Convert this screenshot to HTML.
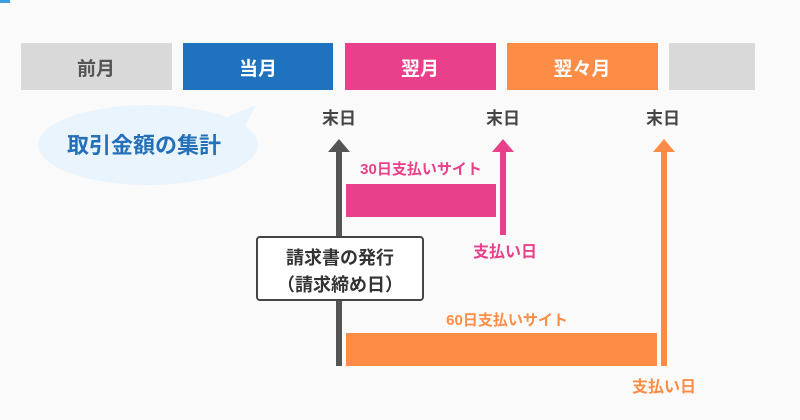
<!DOCTYPE html>
<html><head><meta charset="utf-8"><style>
html,body{margin:0;padding:0;background:#fafafa;}
svg{display:block;}
text{font-family:"Liberation Sans","Noto Sans CJK JP",sans-serif;font-weight:bold;}
</style></head><body>
<svg width="800" height="420" viewBox="0 0 800 420" xmlns="http://www.w3.org/2000/svg">
<rect width="800" height="420" fill="#fafafa"/>
<rect x="0" y="0" width="10" height="3" fill="#3aa0dc"/>
<rect x="21" y="43" width="151" height="47" fill="#d9d9d9"/>
<rect x="183" y="43" width="150" height="47" fill="#1f72bd"/>
<rect x="345" y="43" width="151" height="47" fill="#e8408a"/>
<rect x="507" y="43" width="151" height="47" fill="#fd8d46"/>
<rect x="669" y="43" width="86" height="47" fill="#d9d9d9"/>
<text x="96" y="75" font-size="19" fill="#555" text-anchor="middle">前月</text>
<text x="258" y="75" font-size="19" fill="#fff" text-anchor="middle">当月</text>
<text x="420" y="75" font-size="19" fill="#fff" text-anchor="middle">翌月</text>
<text x="582" y="75" font-size="19" fill="#fff" text-anchor="middle">翌々月</text>
<ellipse cx="148" cy="145" rx="110" ry="40" fill="#eaf4fc"/>
<path d="M225 118 L256 105 L240 135 Z" fill="#eaf4fc"/>
<text x="144" y="153" font-size="22" fill="#2470b8" text-anchor="middle">取引金額の集計</text>
<text x="339" y="124" font-size="17" fill="#444" text-anchor="middle">末日</text>
<text x="503" y="124" font-size="17" fill="#444" text-anchor="middle">末日</text>
<text x="663" y="124" font-size="17" fill="#444" text-anchor="middle">末日</text>
<rect x="336" y="148" width="6" height="218" fill="#555"/>
<path d="M328 152 L339 139 L350 152 Z" fill="#555"/>
<rect x="500" y="148" width="6" height="87" fill="#e8408a"/>
<path d="M492 152 L503 139 L514 152 Z" fill="#e8408a"/>
<rect x="661" y="148" width="6" height="218" fill="#fd8d46"/>
<path d="M653 152 L664 139 L675 152 Z" fill="#fd8d46"/>
<rect x="346" y="184" width="150" height="33" fill="#e8408a"/>
<text x="421" y="174" font-size="15" fill="#e8408a" text-anchor="middle">30日支払いサイト</text>
<rect x="346" y="333" width="311" height="33" fill="#fd8d46"/>
<text x="507" y="325" font-size="15" fill="#fd8d46" text-anchor="middle">60日支払いサイト</text>
<text x="505" y="257" font-size="16" fill="#e8408a" text-anchor="middle">支払い日</text>
<text x="664" y="392" font-size="16" fill="#fd8d46" text-anchor="middle">支払い日</text>
<rect x="257" y="237" width="166" height="63" rx="3" fill="#fff" stroke="#444" stroke-width="2"/>
<text x="340" y="264" font-size="18" fill="#333" text-anchor="middle">請求書の発行</text>
<text x="340" y="291" font-size="18" fill="#333" text-anchor="middle">（請求締め日）</text>
</svg>
</body></html>
